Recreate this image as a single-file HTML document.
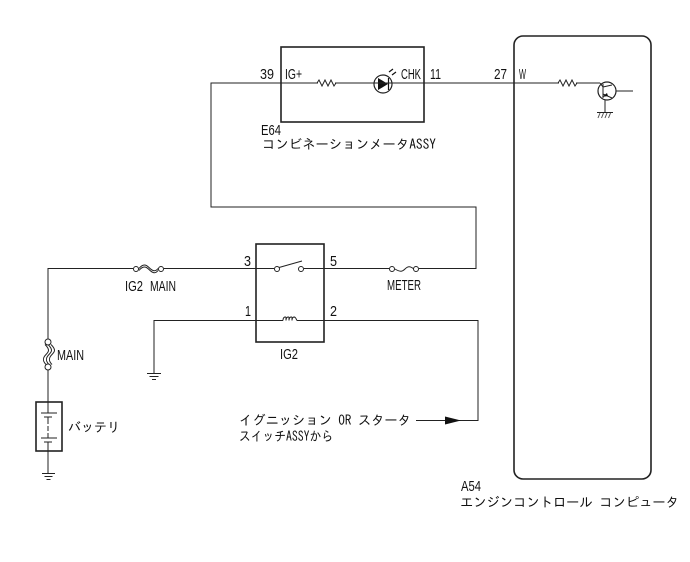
<!DOCTYPE html>
<html><head><meta charset="utf-8"><style>
html,body{margin:0;padding:0;background:#fff}
svg{display:block}
text{font-family:"Liberation Sans","IPAGothic","Noto Sans CJK JP",sans-serif;font-size:15px;fill:#111}
text.j{font-family:"IPAGothic","Noto Sans CJK JP",sans-serif;font-size:13.4px}
.w{fill:none;stroke:#222;stroke-width:1}
.b{fill:none;stroke:#222;stroke-width:1.6}
.c{fill:#fff;stroke:#222;stroke-width:1}
</style></head><body>
<svg width="690" height="562" viewBox="0 0 690 562" xmlns="http://www.w3.org/2000/svg">
<!-- wires -->
<path class="w" d="M378 83H211V207H476V268.500H419M389 268.500H304M274 268.500H164M133 268.500H48V339M48 370V402M48 451V473"/>
<path class="w" d="M392 83H600M616 91H633M605 98V112"/>
<path class="w" d="M154 373V320.500H283M297 320.500H478V420.500H416"/>
<!-- boxes -->
<rect class="b" x="281" y="47" width="143" height="75"/>
<rect class="b" x="514" y="36" width="137" height="443" rx="9" ry="9"/>
<rect class="b" x="256" y="244" width="68" height="98"/>
<rect class="b" x="36" y="402" width="26" height="49"/>
<!-- resistors -->
<path d="M318 83H335" stroke="#fff" stroke-width="2"/>
<path class="w" d="M317 83l2-3 3 6 3-6 3 6 3-6 3 6 2-3"/>
<path d="M559 83H576" stroke="#fff" stroke-width="2"/>
<path class="w" d="M558 83l2-3 3 6 3-6 3 6 3-6 3 6 2-3"/>
<!-- LED -->
<circle cx="383" cy="84" r="9" fill="#fff" stroke="#222" stroke-width="1.2"/>
<path d="M378 78L388 84L378 90Z" fill="#111"/>
<path d="M388.500 78V90" stroke="#111" stroke-width="1.200"/>
<path d="M389 72l4-3M392 75l4-3" stroke="#111" stroke-width="1.200"/>
<path d="M373 83H392" stroke="#222"/>
<!-- transistor -->
<circle cx="607" cy="91" r="9" fill="#fff" stroke="#222" stroke-width="1.200"/>
<path d="M603 84V98M603 87L600 83M603 87L612 85M603 94L612 98" stroke="#222" fill="none"/>
<path d="M602 97l5-4 1 3z" fill="#111"/>
<path d="M597 112.500H613" stroke="#222"/>
<path d="M600 113l-2 5M603.500 113l-2 5M607 113l-2 5M610.500 113l-2 5" stroke="#555"/>
<!-- switch -->
<path d="M279 267.500L302 261" stroke="#222" fill="none"/>
<circle class="c" cx="277" cy="269" r="2.500"/>
<circle class="c" cx="301" cy="269" r="2.500"/>
<!-- coil -->
<path d="M283 320.500c0-4 3-4 3-3v3c0-4 3-4 3-3v3c0-4 3-4 3-3v3c0-4 3-4 3-3c1 0 1 2 2 3" class="w"/>
<!-- fuses -->
<path d="M139 268.500c4-5 7-4 10-1s6 5 9 1M139 270.500c4-5 7-4 10-1s6 5 9 1" fill="none" stroke="#222"/>
<circle class="c" cx="136" cy="269" r="2.500"/>
<circle class="c" cx="161" cy="269" r="2.500"/>
<path d="M395 269c5 3 7 3 10 0s5-3 9 0" fill="none" stroke="#222"/>
<circle class="c" cx="392" cy="269" r="2.500"/>
<circle class="c" cx="416" cy="269" r="2.500"/>
<path d="M48 345c5 5 4 7 1 10s-4 6 0 10M51 345c5 5 4 7 1 10s-4 6 0 10M45 345c5 5 4 7 1 10s-4 6 0 10" fill="none" stroke="#222" transform="translate(0,-0.500)"/>
<circle class="c" cx="48" cy="342" r="3"/>
<circle class="c" cx="48" cy="367" r="3"/>
<!-- battery -->
<path d="M48 402V413M41 413H57" stroke="#222" fill="none"/>
<path d="M44 417H52M48 417V424M48 426V431M48 433V438M41 438H57M44 442H52M48 442V451" stroke="#222" fill="none"/>
<!-- grounds -->
<path d="M147 373.500H161M149.500 376.500H158.500M152 379.500H156" stroke="#222"/>
<path d="M42 473.500H55M44.500 476.500H52.500M46.500 479.500H50.500" stroke="#222"/>
<!-- arrow -->
<path d="M445 416.500L461 420.500L445 424.500Z" fill="#111"/>
<!-- labels -->
<text x="260" y="79" textLength="14" lengthAdjust="spacingAndGlyphs">39</text>
<text x="285" y="79" textLength="17" lengthAdjust="spacingAndGlyphs">IG+</text>
<text x="401" y="79" textLength="20" lengthAdjust="spacingAndGlyphs">CHK</text>
<text x="430" y="79" textLength="11" lengthAdjust="spacingAndGlyphs">11</text>
<text x="494" y="79" textLength="13" lengthAdjust="spacingAndGlyphs">27</text>
<text x="519" y="79" textLength="7" lengthAdjust="spacingAndGlyphs">W</text>
<text x="261" y="135" textLength="20" lengthAdjust="spacingAndGlyphs">E64</text>
<text class="j" x="262" y="149" textLength="174" lengthAdjust="spacingAndGlyphs">コンビネーションメータASSY</text>
<text x="244" y="266" textLength="7" lengthAdjust="spacingAndGlyphs">3</text>
<text x="330" y="266" textLength="7" lengthAdjust="spacingAndGlyphs">5</text>
<text x="245" y="316" textLength="6" lengthAdjust="spacingAndGlyphs">1</text>
<text x="330" y="316" textLength="7" lengthAdjust="spacingAndGlyphs">2</text>
<text x="125" y="291" textLength="18" lengthAdjust="spacingAndGlyphs">IG2</text>
<text x="150" y="291" textLength="26" lengthAdjust="spacingAndGlyphs">MAIN</text>
<text x="387" y="290" textLength="34" lengthAdjust="spacingAndGlyphs">METER</text>
<text x="280" y="359" textLength="18" lengthAdjust="spacingAndGlyphs">IG2</text>
<text x="57" y="360" textLength="27" lengthAdjust="spacingAndGlyphs">MAIN</text>
<text class="j" x="68" y="432" textLength="52" lengthAdjust="spacingAndGlyphs">バッテリ</text>
<text class="j" x="239" y="425" textLength="172" lengthAdjust="spacing">イグニッション OR スタータ</text>
<text class="j" x="239" y="441" textLength="94" lengthAdjust="spacingAndGlyphs">スイッチASSYから</text>
<text x="461" y="491" textLength="20" lengthAdjust="spacingAndGlyphs">A54</text>
<text class="j" x="460" y="507" textLength="219" lengthAdjust="spacing">エンジンコントロール コンピュータ</text>
</svg>
</body></html>
